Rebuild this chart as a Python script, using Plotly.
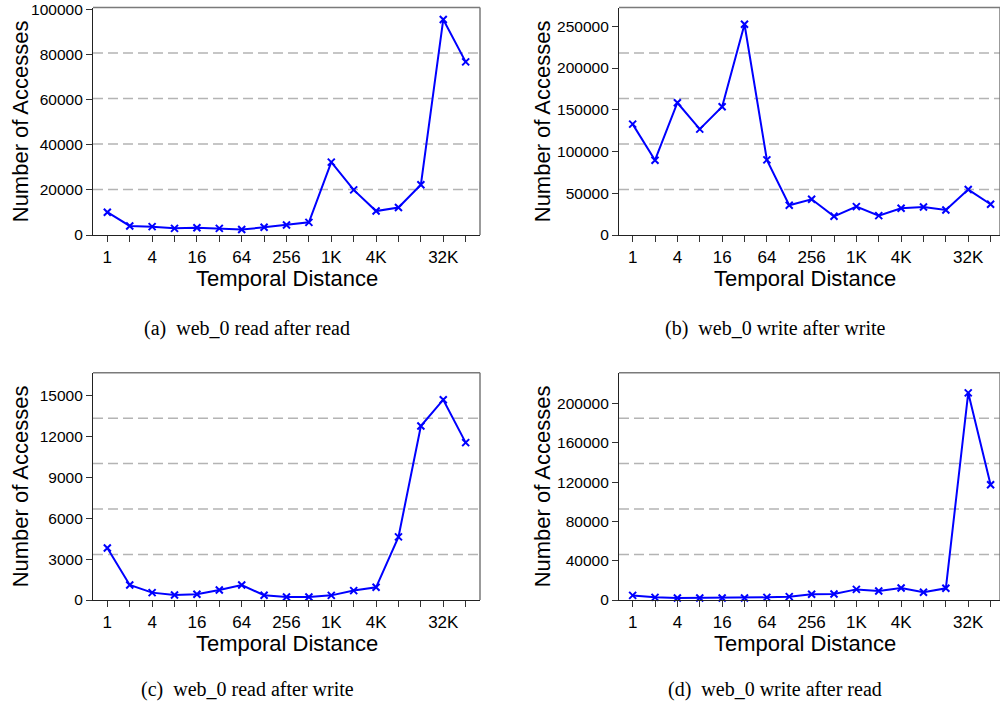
import plotly.graph_objects as go

# ---------------- data ----------------
distances = [1, 2, 4, 8, 16, 32, 64, 128, 256, 512, 1024, 2048, 4096, 8192, 16384, 32768, 65536]
tick_labels = ["1", "", "4", "", "16", "", "64", "", "256", "", "1K", "", "4K", "", "", "32K", ""]

read_after_read = [10100, 4000, 3700, 2950, 3200, 2950, 2400, 3400, 4400, 5600,
                   32300, 20000, 10600, 12200, 22300, 95500, 76700]
write_after_write = [132800, 89600, 158400, 126800, 153600, 252400, 90000, 35600, 42800, 22400,
                     34000, 23200, 32000, 33600, 30000, 54400, 36800]
read_after_write = [3820, 1100, 540, 370, 420, 730, 1100, 350, 220, 220,
                    340, 690, 930, 4630, 12770, 14700, 11550]
write_after_read = [4700, 2700, 2000, 2000, 2000, 2000, 2700, 3400, 5800, 6100,
                    10800, 9200, 12200, 7800, 11900, 210800, 117300]

captions = ["(a)  web_0 read after read", "(b)  web_0 write after write",
            "(c)  web_0 read after write", "(d)  web_0 write after read"]
series = [read_after_read, write_after_write, read_after_write, write_after_read]
y_max = [100800, 272500, 16680, 231300]
y_dtick = [20000, 50000, 3000, 40000]

# ---------------- layout geometry ----------------
W, H = 1000, 705
panels = [
    dict(x0=93, x1=480, top=7.5, bottom=235, xr=(-0.64, 16.64)),
    dict(x0=619, x1=1000, top=7.5, bottom=235, xr=(-0.61, 16.42)),
    dict(x0=93, x1=480, top=372.7, bottom=600, xr=(-0.64, 16.64)),
    dict(x0=619, x1=1000, top=372.7, bottom=600, xr=(-0.61, 16.42)),
]

fig = go.Figure()
LOG2 = 0.30102999566
annotations = []
shapes = []
tickfont = dict(family="Liberation Sans, Arial, sans-serif", size=17, color="#000")
ytickfont = dict(family="Liberation Sans, Arial, sans-serif", size=15.5, color="#000")

for i, (p, ys) in enumerate(zip(panels, series)):
    n = "" if i == 0 else str(i + 1)
    xa, ya = "x" + n, "y" + n
    fig.add_trace(go.Scatter(
        x=distances, y=ys, xaxis=xa, yaxis=ya, mode="lines+markers",
        line=dict(color="#0000ff", width=2),
        marker=dict(symbol="x-thin", size=7, line=dict(width=2, color="#0000ff"), color="#0000ff"),
        showlegend=False, cliponaxis=False,
    ))
    dom_x = [p["x0"] / W, min(p["x1"] / W, 1.0)]
    dom_y = [1 - p["bottom"] / H, 1 - p["top"] / H]
    fig.update_layout(**{
        "xaxis" + n: dict(
            domain=dom_x, anchor=ya, type="log", automargin=False,
            range=[p["xr"][0] * LOG2, p["xr"][1] * LOG2],
            tickmode="array", tickvals=distances, ticktext=tick_labels,
            ticks="outside", ticklen=6, tickwidth=1, tickcolor="#333",
            showline=True, linecolor="#222", linewidth=1.2,
            showgrid=False, zeroline=False, tickfont=tickfont,
        ),
        "yaxis" + n: dict(
            domain=dom_y, anchor=xa, range=[0, y_max[i]], automargin=False,
            tickmode="linear", tick0=0, dtick=y_dtick[i], tickformat="d",
            ticks="outside", ticklen=6, tickwidth=1, tickcolor="#333",
            showline=True, linecolor="#222", linewidth=1.2,
            showgrid=False, zeroline=False, tickfont=ytickfont,
        ),
    })
    # dashed horizontal grid lines at fifths of the axis height
    for f in [0.2, 0.4, 0.6, 0.8]:
        shapes.append(dict(type="line", xref=xa + " domain", yref=ya + " domain",
                           x0=0, x1=1, y0=f, y1=f, layer="below",
                           line=dict(color="#b4b4b4", width=1.5, dash="10px,5px")))
    # gray frame (top / right)
    shapes.append(dict(type="line", xref=xa + " domain", yref=ya + " domain",
                       x0=0, x1=1, y0=1, y1=1, line=dict(color="#7a7a7a", width=1.5)))
    shapes.append(dict(type="line", xref=xa + " domain", yref=ya + " domain",
                       x0=1, x1=1, y0=0, y1=1, line=dict(color="#7a7a7a", width=1.5)))
    # axis titles
    cx = 287 if i % 2 == 0 else 805
    annotations.append(dict(text="Temporal Distance", xref="paper", yref="paper",
                            x=cx / W, y=1 - (p["bottom"] + 43) / H, showarrow=False,
                            xanchor="center", yanchor="middle",
                            font=dict(family="Liberation Sans, Arial, sans-serif", size=22, color="#000")))
    ytx = 20 if i % 2 == 0 else 542
    annotations.append(dict(text="Number of Accesses", xref="paper", yref="paper",
                            x=ytx / W, y=1 - (p["top"] + p["bottom"]) / 2 / H, showarrow=False,
                            textangle=-90, xanchor="center", yanchor="middle",
                            font=dict(family="Liberation Sans, Arial, sans-serif", size=22, color="#000")))
    capx = 247 if i % 2 == 0 else 775
    capy = 328 if i < 2 else 689
    annotations.append(dict(text=captions[i], xref="paper", yref="paper",
                            x=capx / W, y=1 - capy / H, showarrow=False,
                            xanchor="center", yanchor="middle",
                            font=dict(family="Liberation Serif, Times New Roman, serif", size=20, color="#000")))

fig.update_layout(
    width=W, height=H, margin=dict(l=0, r=0, t=0, b=0),
    paper_bgcolor="white", plot_bgcolor="white",
    shapes=shapes, annotations=annotations,
)

fig.write_html("out.html")
